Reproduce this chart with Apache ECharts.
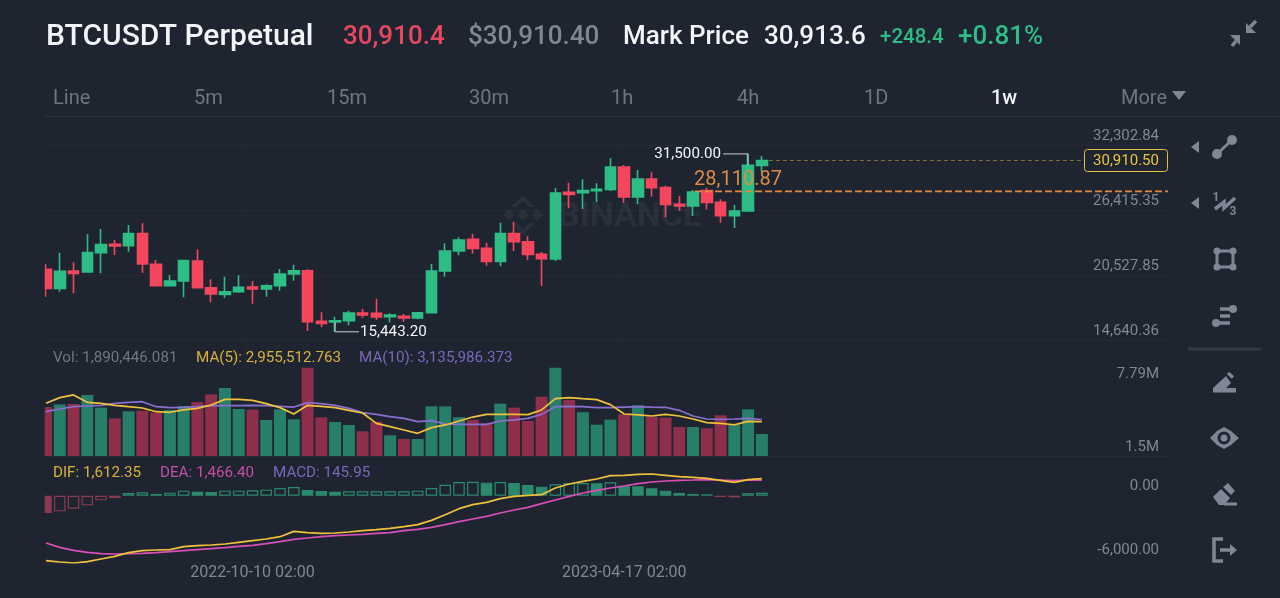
<!DOCTYPE html>
<html>
<head>
<meta charset="utf-8">
<title>BTCUSDT Perpetual</title>
<script src="https://cdn.jsdelivr.net/npm/echarts@6/dist/echarts.min.js"></script>
<style>
  html, body { margin: 0; padding: 0; background: #1e2530; }
  #main { width: 1280px; height: 598px; }
</style>
</head>
<body>
<div id="main"></div>
<script>
// weekly candles, one label every week
var categories = [
  '2022-06-27 02:00','2022-07-04 02:00','2022-07-11 02:00','2022-07-18 02:00','2022-07-25 02:00','2022-08-01 02:00',
  '2022-08-08 02:00','2022-08-15 02:00','2022-08-22 02:00','2022-08-29 02:00','2022-09-05 02:00','2022-09-12 02:00',
  '2022-09-19 02:00','2022-09-26 02:00','2022-10-03 02:00','2022-10-10 02:00','2022-10-17 02:00','2022-10-24 02:00',
  '2022-10-31 02:00','2022-11-07 02:00','2022-11-14 02:00','2022-11-21 02:00','2022-11-28 02:00','2022-12-05 02:00',
  '2022-12-12 02:00','2022-12-19 02:00','2022-12-26 02:00','2023-01-02 02:00','2023-01-09 02:00','2023-01-16 02:00',
  '2023-01-23 02:00','2023-01-30 02:00','2023-02-06 02:00','2023-02-13 02:00','2023-02-20 02:00','2023-02-27 02:00',
  '2023-03-06 02:00','2023-03-13 02:00','2023-03-20 02:00','2023-03-27 02:00','2023-04-03 02:00','2023-04-10 02:00',
  '2023-04-17 02:00','2023-04-24 02:00','2023-05-01 02:00','2023-05-08 02:00','2023-05-15 02:00','2023-05-22 02:00',
  '2023-05-29 02:00','2023-06-05 02:00','2023-06-12 02:00','2023-06-19 02:00','2023-06-26 02:00'
];
var dateLabels = ['2022-10-10 02:00', '2023-04-17 02:00'];

// open, close, low, high
var candles = [
  [21080,19365,18613,21562],[19365,20900,19064,22585],[20930,20719,18914,21712],[20840,22585,20840,24269],
  [22585,23307,20719,24721],[23337,23186,22374,23728],[23216,24300,22675,25082],[24300,21562,20779,25232],
  [21532,19606,19606,21923],[19606,20027,19576,20569],[20027,21863,18553,21923],[21833,19425,19365,22885],
  [19425,18854,18102,20178],[18824,19064,18523,20418],[19064,19456,18974,20539],[19486,19305,17981,20027],
  [19305,19606,18613,19726],[19606,20659,19155,21110],[20659,20960,20057,21501],[20960,16357,15514,21080],
  [16387,16206,15845,17199],[16327,16447,15443.2,16808],[16447,17139,16026,17349],[17139,16958,16718,17500],
  [17109,16778,16507,18433],[16808,16958,16296,17109],[16838,16688,16357,17049],[16688,17169,16567,17199],
  [17169,20930,17169,21562],[20930,22735,20418,23427],[22735,23728,22344,23969],[23788,22976,22494,24300],
  [22976,21802,21411,23487],[21802,24300,21351,25292],[24300,23577,22735,25383],[23577,22434,21923,24059],
  [22434,22043,19576,22645],[22013,27970,21833,28421],[28030,27850,26586,28903],[28000,28181,26526,29204],
  [28181,28301,27158,28843],[28301,30317,28151,31099],[30317,27609,27098,30497],[27609,29234,26947,30046],
  [29234,28452,27639,29836],[28452,26947,25774,28632],[26947,26797,26376,27699],[26797,28060,25894,28241],
  [28181,27128,26496,28452],[27128,25924,25292,27399],[25924,26345,24811,26887],[26345,30467,26345,31500],
  [30467,30910.5,29836,31310]
];

// volume in millions
var volumes = [4.21,4.44,4.47,5.25,4.16,3.24,3.84,3.90,3.73,3.96,4.30,4.64,5.30,5.85,4.04,3.99,3.10,4.01,3.15,7.60,
  3.33,2.92,2.67,2.12,2.95,1.78,1.46,1.46,4.27,4.27,3.33,3.10,2.81,4.50,4.16,3.01,5.10,7.60,4.82,3.76,
  2.69,3.13,3.58,4.36,3.38,3.30,2.49,2.49,2.38,3.50,2.72,4.01,1.89];
var ma5 = [4.53,5.02,5.25,4.62,4.53,4.36,4.24,4.13,3.81,3.76,3.96,4.10,4.39,4.87,4.87,4.79,4.50,4.16,3.61,4.36,
  4.27,4.16,3.93,3.70,2.81,2.52,2.24,1.95,2.44,2.67,3.01,3.35,3.58,3.58,3.58,3.56,3.96,4.93,5.02,4.93,
  4.85,4.42,3.61,3.53,3.44,3.58,3.44,3.18,2.87,2.81,2.69,2.98,2.96];
var ma10 = [3.81,4.04,4.24,4.30,4.36,4.53,4.62,4.67,4.24,4.16,4.19,4.24,4.33,4.33,4.33,4.36,4.33,4.27,4.21,4.59,
  4.50,4.36,4.10,3.73,3.58,3.38,3.24,2.95,3.04,2.75,2.72,2.72,2.72,3.01,3.10,3.24,3.58,4.24,4.27,4.24,
  4.16,4.16,4.21,4.24,4.21,4.19,3.93,3.44,3.18,3.15,3.18,3.24,3.14];

var dif = [-6126,-6251,-6346,-6220,-5968,-5717,-5371,-5183,-5120,-5088,-4806,-4711,-4648,-4554,-4397,-4240,-4083,-3863,-3360,-3486,
  -3548,-3517,-3423,-3297,-3203,-3077,-2920,-2731,-2323,-1788,-1223,-845,-625,-280,-60,35,97,726,1103,1355,
  1575,1889,1920,2015,2046,1920,1795,1732,1638,1449,1260,1512,1612.35];
var dea = [-4460,-4868,-5151,-5340,-5466,-5497,-5466,-5434,-5371,-5277,-5183,-5088,-4994,-4900,-4774,-4680,-4523,-4334,-4114,-3988,
  -3863,-3768,-3706,-3643,-3548,-3486,-3297,-3171,-2983,-2731,-2448,-2197,-1945,-1631,-1348,-1097,-751,-405,-60,255,
  506,726,915,1135,1292,1386,1449,1480,1512,1480,1417,1480,1466.4];
var macdHist = [-1631,-1474,-1223,-908,-437,-217,255,317,160,286,475,380,349,475,475,506,569,726,820,537,
  443,380,412,412,412,412,412,475,726,1040,1292,1323,1229,1292,1197,1009,852,1072,1197,1197,
  1166,1260,946,883,695,475,255,160,129,-123,-154,240,280];

var priceTicks = [32302.84, 26415.35, 20527.85, 14640.36];
var volTicks = [7.79, 1.5];
var macdTicks = [0, -6000];

var lastPrice = 30910.5;
var avgEntry = 28110.87;

var headerTexts = ['BTCUSDT Perpetual', '30,910.4', '$30,910.40', 'Mark Price', '30,913.6', '+248.4', '+0.81%'];
var tabNames = ['Line', '5m', '15m', '30m', '1h', '4h', '1D', '1w', 'More'];
var volLegend = ['Vol: 1,890,446.081', 'MA(5): 2,955,512.763', 'MA(10): 3,135,986.373'];
var macdLegend = ['DIF: 1,612.35', 'DEA: 1,466.40', 'MACD: 145.95'];

var bg = '#1e2530', up = '#2ebd85', down = '#f6465d', gray = '#7f8793', iconGray = '#7f8794';
var volUp = '#287f69', volDown = '#8d2f4a';
var gridLine = 'rgba(255,255,255,0.03)';
var fontName = 'Roboto';

function money(v) {
  return v.toLocaleString('en-US', { minimumFractionDigits: 2, maximumFractionDigits: 2 });
}
function txt(text, x, y, size, fill, align, weight) {
  return { type: 'text', z: 50, silent: true, style: {
    text: text, x: x, y: y, fill: fill, textAlign: align || 'left', textVerticalAlign: 'middle',
    fontSize: size, fontFamily: fontName, fontWeight: weight || 'normal'
  } };
}
function poly(points, fill) {
  return { type: 'polygon', z: 50, silent: true, shape: { points: points }, style: { fill: fill || iconGray } };
}
function pline(points, width, color) {
  return { type: 'polyline', z: 50, silent: true, shape: { points: points },
    style: { stroke: color || iconGray, lineWidth: width, fill: null } };
}
function dot(x, y, r, fill) {
  return { type: 'circle', z: 50, silent: true, shape: { cx: x, cy: y, r: r }, style: { fill: fill || iconGray } };
}
function hline(x1, x2, y, color, width, dash) {
  return { type: 'line', z: 40, silent: true, shape: { x1: x1, y1: y, x2: x2, y2: y },
    style: { stroke: color, lineWidth: width, lineDash: dash || null } };
}

function headerGraphic() {
  var g = [];
  g.push(txt(headerTexts[0], 46, 37.5, 30, '#f2f4f7', 'left', 500));
  g.push(txt(headerTexts[1], 343, 37.5, 26, '#e8485f', 'left', 500));
  g.push(txt(headerTexts[2], 468, 37.5, 26, '#7f8793', 'left', 500));
  g.push(txt(headerTexts[3], 623, 37.5, 26, '#f2f4f7', 'left', 500));
  g.push(txt(headerTexts[4], 764, 37.5, 26, '#f2f4f7', 'left', 500));
  g.push(txt(headerTexts[5], 880, 37.5, 20.5, up, 'left', 500));
  g.push(txt(headerTexts[6], 958, 37.5, 26, up, 'left', 500));

  var tabX = [53, 194, 327, 469, 611, 737, 864, 991, 1121];
  tabNames.forEach(function (name, i) {
    g.push(txt(name, tabX[i], 99, 20, name === '1w' ? '#f2f4f7' : '#6f7682', 'left', name === '1w' ? 500 : 'normal'));
  });
  g.push(poly([[1172, 91], [1186, 91], [1179, 100]], '#7f8793'));
  g.push(hline(45, 1280, 116.5, '#2d343f', 1));

  // pane borders
  g.push(hline(45, 1168, 456.5, gridLine, 1));
  g.push(hline(45, 1168, 563, gridLine, 1));

  // collapse icon
  g.push(poly([[1246, 33], [1256, 33], [1246, 23]], iconGray));
  g.push(pline([[1250, 27], [1256, 21]], 3.5));
  g.push(poly([[1240, 35], [1230, 35], [1240, 45]], iconGray));
  g.push(pline([[1236, 41], [1232, 46]], 3.5));
  return g;
}

function toolsGraphic() {
  var g = [];
  // line tool
  g.push(pline([[1232, 140], [1217, 154]], 3));
  g.push(dot(1232, 140, 5), dot(1217, 154, 5));
  g.push(poly([[1199, 141], [1199, 153], [1191, 147]]));
  // zigzag
  g.push(pline([[1215, 209], [1224, 202], [1224, 208], [1235, 198]], 3.5));
  g.push(txt('1', 1216, 198, 12, iconGray, 'center', 'bold'));
  g.push(txt('3', 1233, 212, 12, iconGray, 'center', 'bold'));
  g.push(poly([[1199, 197], [1199, 209], [1191, 203]]));
  // rectangle
  g.push(pline([[1217, 251], [1233, 251], [1233, 267], [1217, 267], [1217, 251]], 3));
  g.push(dot(1217, 251, 3.5), dot(1233, 251, 3.5), dot(1217, 267, 3.5), dot(1233, 267, 3.5));
  // fib
  g.push(pline([[1220, 309], [1233, 309]], 3.5));
  g.push(pline([[1220, 316], [1230, 316]], 3.5));
  g.push(pline([[1216, 323], [1230, 323]], 3.5));
  g.push(dot(1233, 309, 4), dot(1216, 323, 4));
  // separator
  g.push(hline(1188, 1261, 349, '#343a45', 3));
  // pencil
  g.push(poly([[1213, 388], [1213, 392.5], [1236, 392.5], [1236, 388], [1226, 388], [1231, 383], [1226, 376]]));
  g.push(pline([[1228, 373], [1233, 377.5]], 3.5));
  // eye
  g.push(poly([[1210, 438], [1217, 431], [1224, 427], [1231, 431], [1239, 438], [1231, 445], [1224, 449], [1217, 445]]));
  g.push(dot(1224, 438, 6.5, bg), dot(1224, 438, 3.5));
  // eraser
  g.push(poly([[1213, 497], [1221, 489], [1230, 498], [1224, 505], [1219, 505]]));
  g.push(poly([[1223, 487], [1228, 483], [1235, 491], [1231, 495]]));
  g.push(pline([[1224, 504], [1237, 504]], 3));
  // exit
  g.push(pline([[1223, 539], [1214, 539], [1214, 561], [1223, 561]], 3.5));
  g.push(pline([[1220, 550], [1231, 550]], 3.5));
  g.push(poly([[1230, 544], [1237, 550], [1230, 556]]));
  return g;
}

function legendGraphic() {
  return [
    txt(volLegend[0], 53, 358, 15.2, '#6f7682'),
    txt(volLegend[1], 196, 358, 15.2, '#d9b13b'),
    txt(volLegend[2], 359, 358, 15.2, '#7a67b8'),
    txt(macdLegend[0], 53, 473, 15.2, '#d9b13b'),
    txt(macdLegend[1], 160, 473, 15.2, '#c44ea5'),
    txt(macdLegend[2], 273, 473, 15.2, '#7a67b8')
  ];
}

function watermarkGraphic() {
  var c = 'rgba(255,255,255,0.05)';
  var g = [];
  g.push({ type: 'text', z: 0, silent: true, style: { text: 'BINANCE', x: 558, y: 217, fill: c, textVerticalAlign: 'middle',
    fontSize: 34, fontFamily: fontName, fontWeight: 'bold' } });
  g.push(poly([[523, 195], [535, 207], [529, 207], [523, 201], [517, 207], [511, 207]], c));
  g.push(poly([[523, 235], [535, 223], [529, 223], [523, 229], [517, 223], [511, 223]], c));
  g.push(poly([[523, 209], [529, 215], [523, 221], [517, 215]], c));
  g.push(poly([[509, 209], [515, 215], [509, 221], [503, 215]], c));
  g.push(poly([[537, 209], [543, 215], [537, 221], [531, 215]], c));
  g.forEach(function (el) { el.z = 0; });
  return g;
}

// band padding so the last candle sits where the screen leaves it
var xData = categories.concat(new Array(29).fill(''));

function dateOnly(i) { return dateLabels.indexOf(xData[i]) >= 0; }

function makeX(gridIndex, showLabel) {
  return {
    type: 'category', gridIndex: gridIndex, data: xData, boundaryGap: true,
    axisLine: { show: false }, axisTick: { show: false },
    axisLabel: { show: showLabel, interval: function (i) { return dateOnly(i); }, color: '#7f8793', fontSize: 16, fontFamily: fontName, margin: 2, lineHeight: 16 },
    splitLine: { show: true, interval: function (i) { return dateOnly(i); }, lineStyle: { color: 'rgba(255,255,255,0.015)' } }
  };
}
function makeY(gridIndex, min, max, ticks, showLines, fmt, vAlign, lineH) {
  return {
    type: 'value', gridIndex: gridIndex, position: 'right', min: min, max: max, scale: true,
    axisLine: { show: false },
    axisTick: { show: false, customValues: ticks },
    axisLabel: { inside: true, customValues: ticks, formatter: fmt, margin: 9, color: gray, fontSize: 15, fontFamily: fontName, verticalAlign: vAlign, lineHeight: lineH },
    splitLine: { show: showLines, lineStyle: { color: gridLine } }
  };
}

var chart = echarts.init(document.getElementById('main'), null, { renderer: 'canvas' });

var option = {
  animation: false,
  backgroundColor: bg,
  grid: [
    { left: 39.1, width: 1128.9, top: 145, height: 195.7 },
    { left: 39.1, width: 1128.9, top: 341, height: 115 },
    { left: 39.1, width: 1128.9, top: 457, height: 106 }
  ],
  xAxis: [makeX(0, false), makeX(1, false), makeX(2, true)],
  yAxis: [
    makeY(0, 14640.36, 32302.84, priceTicks, true, function (v) { return money(v); }, 'bottom', 18),
    makeY(1, 0, 9.89, volTicks, false, function (v) { return v + 'M'; }, 'top', 17),
    makeY(2, -6346, 3650, macdTicks, false, function (v) { return money(v); }, 'bottom', 18)
  ],
  series: [
    {
      type: 'candlestick', xAxisIndex: 0, yAxisIndex: 0, data: candles, barWidth: 11,
      itemStyle: { color: up, color0: down, borderColor: up, borderColor0: down, borderWidth: 1.6 }
    },
    {
      type: 'bar', xAxisIndex: 1, yAxisIndex: 1, barWidth: 12,
      data: volumes.map(function (v, i) {
        return { value: v, itemStyle: { color: candles[i][1] >= candles[i][0] ? volUp : volDown } };
      })
    },
    { type: 'line', xAxisIndex: 1, yAxisIndex: 1, data: ma10, showSymbol: false, z: 3, lineStyle: { color: '#8a6fd1', width: 1.7 } },
    { type: 'line', xAxisIndex: 1, yAxisIndex: 1, data: ma5, showSymbol: false, z: 4, lineStyle: { color: '#f0c23c', width: 1.7 } },
    {
      type: 'bar', xAxisIndex: 2, yAxisIndex: 2, barWidth: 11.5,
      data: macdHist.map(function (v, i) {
        var c = v >= 0 ? '#2b8a6e' : '#8d3a50';
        var hollow = i > 0 && v >= macdHist[i - 1];
        return { value: v, itemStyle: { color: hollow ? 'rgba(0,0,0,0)' : c, borderColor: c, borderWidth: 1.2 } };
      })
    },
    { type: 'line', xAxisIndex: 2, yAxisIndex: 2, data: dea, showSymbol: false, z: 3, lineStyle: { color: '#d94fb8', width: 1.7 } },
    { type: 'line', xAxisIndex: 2, yAxisIndex: 2, data: dif, showSymbol: false, z: 4, lineStyle: { color: '#f0c23c', width: 1.7 } }
  ]
};
chart.setOption(option);

// annotations are placed from the axes once the chart is laid out
function px(i, v) { return chart.convertToPixel({ xAxisIndex: 0, yAxisIndex: 0 }, [i, v]); }

function annotations() {
  var g = [];
  var hiIdx = 0, loIdx = 0;
  candles.forEach(function (c, i) {
    if (c[3] > candles[hiIdx][3]) hiIdx = i;
    if (c[2] < candles[loIdx][2]) loIdx = i;
  });
  var hi = px(hiIdx, candles[hiIdx][3]);
  var lo = px(loIdx, candles[loIdx][2]);
  var hiTop = px(hiIdx, candles[hiIdx][1]);
  var loBody = px(loIdx, candles[loIdx][0]);

  g.push(pline([[hi[0], hiTop[1]], [hi[0], hi[1]], [723, hi[1]]], 1, '#c9ced6'));
  g.push(txt(money(candles[hiIdx][3]), 721, hi[1], 15.2, '#f2f4f7', 'right'));
  g.push(pline([[lo[0], loBody[1]], [lo[0], lo[1]], [359, lo[1]]], 1, '#c9ced6'));
  g.push(txt(money(candles[loIdx][2]), 360, lo[1], 15.2, '#f2f4f7'));

  var last = px(candles.length - 1, lastPrice);
  g.push(hline(last[0] + 7, 1084, last[1], '#8a7a3a', 1, [4, 3]));
  g.push({ type: 'rect', z: 45, silent: true, shape: { x: 1084.5, y: 149.5, width: 83, height: 22, r: 3 },
    style: { fill: bg, stroke: '#e6c13c', lineWidth: 1 } });
  g.push(txt(money(lastPrice), 1126, 161.5, 15, '#e9c53f', 'center'));

  var entry = px(0, avgEntry);
  g.push(hline(695, 1168, entry[1], '#e0883f', 1.7, [7, 3]));
  g.push(txt(money(avgEntry), 694, entry[1] - 11, 20, '#dd8a45'));
  return g;
}

var cover = { type: 'rect', z: 10, silent: true, shape: { x: 0, y: 125, width: 44.7, height: 445 }, style: { fill: bg } };

chart.setOption({
  graphic: headerGraphic().concat(toolsGraphic(), legendGraphic(), watermarkGraphic(), annotations(), [cover])
});
</script>
</body>
</html>
